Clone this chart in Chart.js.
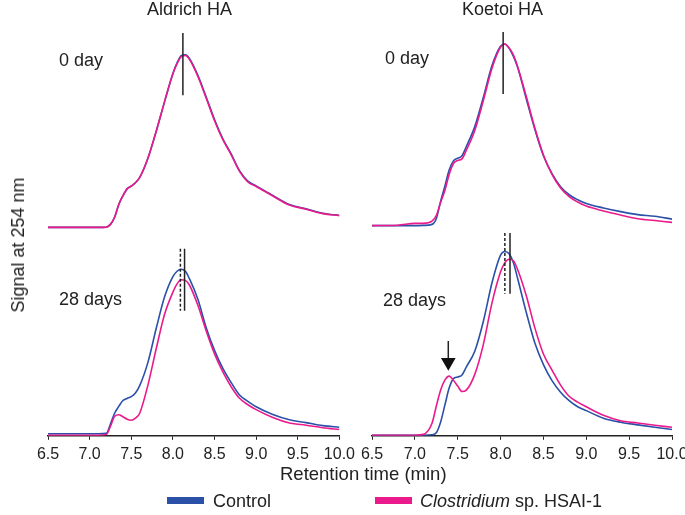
<!DOCTYPE html>
<html>
<head>
<meta charset="utf-8">
<script src="https://cdn.jsdelivr.net/npm/chart.js@4/dist/chart.umd.min.js"></script>
<style>
body { margin: 0; width: 685px; height: 515px; overflow: hidden; position: relative; background: #fff;
  font-family: "Liberation Sans", Arial, sans-serif; color: #222; }
canvas { position: absolute; top: 0; }
.lbl { position: absolute; font-size: 18px; line-height: 1; white-space: nowrap; }
.sw { position: absolute; width: 37px; height: 7px; }
</style>
</head>
<body>
<canvas id="leftChart" width="360" height="515" style="left:0"></canvas>
<canvas id="rightChart" width="360" height="515" style="left:340px"></canvas>

<div class="lbl" style="left:147px;top:0">Aldrich HA</div>
<div class="lbl" style="left:462px;top:0">Koetoi HA</div>
<div class="lbl" style="left:59px;top:51px">0 day</div>
<div class="lbl" style="left:385px;top:49px">0 day</div>
<div class="lbl" style="left:59px;top:290px">28 days</div>
<div class="lbl" style="left:383px;top:291px">28 days</div>
<div class="lbl" style="left:18px;top:245px;transform:translate(-50%,-50%) rotate(-90deg)">Signal at 254 nm</div>
<div class="lbl" style="left:280px;top:465px;font-size:18.5px">Retention time (min)</div>

<div class="sw" style="left:167px;top:497px;background:#2a50a8"></div>
<div class="lbl" style="left:213px;top:492px">Control</div>
<div class="sw" style="left:375px;top:497px;background:#ea1a8c"></div>
<div class="lbl" style="left:420px;top:492px"><i>Clostridium</i> sp. HSAI-1</div>

<script>
// retention time grid (min)
var times = [6.5, 6.8, 7.0, 7.1, 7.2, 7.25, 7.3, 7.35, 7.4, 7.45, 7.5, 7.55, 7.6, 7.7, 7.8, 7.9, 8.0, 8.05,
  8.1, 8.15, 8.2, 8.3, 8.4, 8.5, 8.6, 8.7, 8.8, 8.9, 9.0, 9.2, 9.4, 9.6, 9.8, 10.0];
var xTicks = [6.5, 7.0, 7.5, 8.0, 8.5, 9.0, 9.5, 10.0];

// Aldrich HA
var aldCtrl0 = [2.7, 2.7, 2.7, 2.7, 2.8, 4.2, 7.7, 14.0, 18.3, 21.7, 23.1, 24.7, 27.2, 36.8, 50.1, 64.7, 78.6, 83.8,
  87.3, 87.8, 85.9, 77.7, 67.0, 55.9, 46.4, 38.9, 30.7, 25.5, 23.2, 18.5, 14.0, 11.9, 9.7, 8.6];
var aldClos0 = [2.7, 2.7, 2.7, 2.7, 2.8, 4.2, 7.7, 14.0, 18.3, 21.7, 23.1, 24.7, 27.2, 36.8, 50.1, 64.7, 78.4, 83.4,
  86.9, 87.4, 85.4, 77.1, 66.4, 55.3, 45.9, 38.5, 30.3, 25.1, 22.9, 18.2, 13.7, 11.7, 9.5, 8.5];
var aldCtrl28 = [1.0, 1.0, 1.0, 1.0, 1.2, 5.8, 11.1, 14.5, 17.4, 18.4, 19.3, 21.1, 24.6, 36.2, 53.0, 68.5, 78.5, 81.1,
  82.1, 81.1, 77.3, 67.3, 53.3, 42.1, 33.2, 26.2, 20.1, 17.0, 14.3, 10.5, 7.9, 6.5, 5.0, 4.2];
var aldClos28 = [0.3, 0.3, 0.3, 0.3, 0.6, 4.7, 9.6, 10.4, 9.4, 8.2, 7.7, 8.7, 11.0, 25.0, 43.0, 59.9, 70.8, 74.9,
  76.9, 76.6, 74.2, 64.3, 51.7, 40.4, 31.5, 24.2, 18.5, 15.3, 12.9, 9.0, 6.3, 5.2, 4.0, 3.1];

// Koetoi HA
var koeCtrl0 = [3.6, 3.6, 3.6, 3.7, 4.2, 7.0, 15.5, 23.0, 31.0, 35.5, 36.8, 38.0, 42.5, 52.5, 67.0, 82.5, 92.0, 93.1,
  91.0, 87.0, 81.5, 66.0, 51.0, 38.0, 29.2, 22.8, 18.8, 16.3, 14.5, 12.3, 10.5, 9.0, 8.2, 6.8];
var koeClos0 = [3.6, 3.8, 4.7, 4.7, 5.8, 8.5, 15.0, 20.9, 28.8, 34.2, 35.7, 36.5, 40.7, 50.6, 65.4, 81.2, 91.6, 93.1,
  91.1, 87.7, 81.8, 67.2, 51.7, 38.4, 28.8, 22.1, 17.9, 15.2, 13.2, 10.8, 8.8, 7.0, 6.1, 5.2];
var koeCtrl28 = [0.3, 0.3, 0.3, 0.3, 0.5, 1.5, 6.7, 15.1, 23.5, 28.2, 29.0, 30.0, 33.9, 41.8, 56.6, 75.4, 89.0, 90.8,
  89.7, 85.3, 77.4, 60.8, 45.7, 35.1, 27.2, 21.5, 17.3, 14.3, 12.4, 8.7, 6.7, 5.4, 4.2, 3.1];
var koeClos28 = [0.3, 0.3, 0.3, 0.7, 6.2, 14.6, 22.5, 27.4, 29.4, 27.4, 24.5, 21.8, 22.5, 30.4, 45.2, 65.5, 80.8, 85.3,
  87.0, 86.3, 81.8, 69.0, 53.2, 40.3, 32.4, 25.0, 19.5, 16.6, 14.3, 10.1, 7.4, 6.3, 5.2, 4.2];

// peak marker positions (min) and their vertical extent
var aldPeak0 = 8.12, aldPeak0Span = [98.5, 67.9];
var aldPeak28Ctrl = 8.09, aldPeak28Clos = 8.14, aldPeak28Span = [92.2, 61.6];
var koePeak0 = 8.03, koePeak0Span = [99.0, 68.4];
var koePeak28Ctrl = 8.05, koePeak28Clos = 8.11, koePeak28Span = [100.0, 70.0];
var koeArrowX = 7.39, koeArrowSpan = [46.7, 36.3];

var blue = '#2a50a8', pink = '#ea1a8c';

function pts(vals) {
  return vals.map(function (v, i) { return { x: times[i], y: v } })
}

function trace(vals, color, axis, order) {
  return { data: pts(vals), borderColor: color, borderWidth: 1.6, pointRadius: 0, fill: false,
    cubicInterpolationMode: 'monotone', yAxisID: axis, order: order }
}

function mark(x, span, axis, dashed) {
  return { data: [{ x: x, y: span[0] }, { x: x, y: span[1] }], borderColor: '#222', borderWidth: 1.5,
    borderDash: dashed ? [3, 2] : [], pointRadius: 0, yAxisID: axis, order: -1 }
}

function makePanel(id, padL, padR, sets) {
  var hidden = { stack: 'panel', min: 0, max: 100, display: false, stackWeight: 1 };
  return new Chart(document.getElementById(id), {
    type: 'line',
    data: { datasets: sets },
    options: {
      responsive: false, animation: false, devicePixelRatio: 1,
      layout: { padding: { left: padL, right: padR, top: 30, bottom: 46 } },
      plugins: { legend: { display: false }, tooltip: { enabled: false } },
      scales: {
        x: { type: 'linear', min: 6.5, max: 10, afterBuildTicks: function (s) {
            s.ticks = xTicks.map(function (v) { return { value: v } })
          },
          border: { color: '#222', width: 1.5 },
          grid: { drawOnChartArea: false, tickLength: 4, color: '#222' },
          ticks: { color: '#222', padding: 5, font: { family: 'Liberation Sans', size: 16 }, maxRotation: 0,
            callback: function (v) { return v.toFixed(1) } } },
        // stacked axes: the first one defined ends up at the bottom
        yBot: Object.assign({ position: 'left' }, hidden),
        yTop: Object.assign({ position: 'left' }, hidden)
      }
    }
  })
}

makePanel('leftChart', 48, 14.5, [
  trace(aldClos0, pink, 'yTop', 0), trace(aldCtrl0, blue, 'yTop', 1),
  trace(aldClos28, pink, 'yBot', 0), trace(aldCtrl28, blue, 'yBot', 1),
  mark(aldPeak0, aldPeak0Span, 'yTop', false),
  mark(aldPeak28Ctrl, aldPeak28Span, 'yBot', true), mark(aldPeak28Clos, aldPeak28Span, 'yBot', false)
])

var arrow = mark(koeArrowX, koeArrowSpan, 'yBot', false)
arrow.pointRadius = [0, 7]
arrow.pointStyle = 'triangle'
arrow.rotation = 180
arrow.pointBackgroundColor = '#111'
arrow.pointBorderColor = '#111'

makePanel('rightChart', 32, 28, [
  trace(koeClos0, pink, 'yTop', 0), trace(koeCtrl0, blue, 'yTop', 1),
  trace(koeClos28, pink, 'yBot', 0), trace(koeCtrl28, blue, 'yBot', 1),
  mark(koePeak0, koePeak0Span, 'yTop', false),
  mark(koePeak28Ctrl, koePeak28Span, 'yBot', true), mark(koePeak28Clos, koePeak28Span, 'yBot', false),
  arrow
])
</script>
</body>
</html>
